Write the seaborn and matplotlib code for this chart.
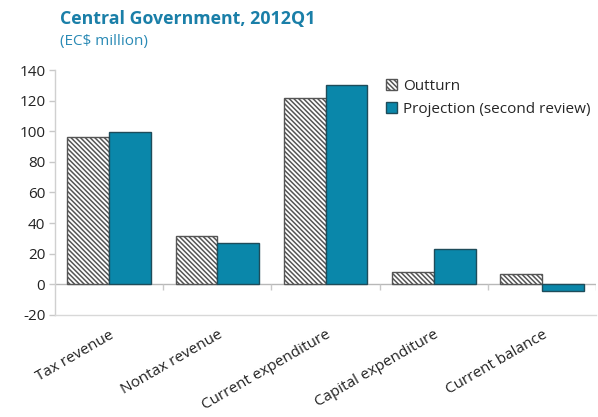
import matplotlib
matplotlib.use("Agg")
import matplotlib.pyplot as plt
from matplotlib.patches import Patch
import seaborn as sns
import pandas as pd
import numpy as np

categories = ["Tax revenue", "Nontax revenue", "Current expenditure",
              "Capital expenditure", "Current balance"]
outturn = [96.2, 31.8, 121.5, 8.3, 6.8]
projection = [99.2, 27.0, 130.5, 23.3, -4.6]
series = ["Outturn", "Projection (second review)"]
yticks = [-20, 0, 20, 40, 60, 80, 100, 120, 140]

df = pd.DataFrame({
    "category": categories * 2,
    "series": [series[0]] * len(categories) + [series[1]] * len(categories),
    "value": outturn + projection,
})

sns.set_theme(style="white")
plt.rcParams["font.family"] = ["Open Sans", "DejaVu Sans"]
plt.rcParams["hatch.linewidth"] = 1.1

teal = "#0a87aa"
hatch_col = "#555555"
HATCH = "\\" * 7

fig = plt.figure(figsize=(5.98, 4.17), dpi=100)
ax = fig.add_axes([0.092, 0.245, 0.905, 0.587])

sns.barplot(data=df, x="category", y="value", hue="series", hue_order=series,
            palette=["white", teal], width=0.77, gap=0, legend=False, ax=ax,
            saturation=1, errorbar=None)

n = len(categories)
for i, p in enumerate(ax.patches[:2 * n]):
    if i < n:
        p.set_facecolor("white")
        p.set_edgecolor(hatch_col)
        p.set_hatch(HATCH)
        p.set_linewidth(1.0)
    else:
        p.set_facecolor(teal)
        p.set_edgecolor("#1e4c5a")
        p.set_linewidth(1.0)

ax.set_ylim(-20, 140)
ax.set_xlim(-0.5, n - 0.5)
ax.set_yticks(yticks)
ax.set_yticklabels([str(v) for v in yticks], fontsize=11, color="#222222")
ax.set_xlabel("")
ax.set_ylabel("")
ax.set_xticks(range(n))
ax.set_xticklabels(categories, rotation=30, ha="right", rotation_mode="anchor",
                   fontsize=11, color="#222222")
ax.tick_params(axis="x", length=0, pad=9)
ax.tick_params(axis="y", length=4, color="#c8c8c8", width=1, pad=3, left=True)

for s in ["top", "right"]:
    ax.spines[s].set_visible(False)
ax.spines["left"].set_color("#d0d0d0")
ax.spines["bottom"].set_color("#d8d8d8")
ax.spines["left"].set_linewidth(1.0)
ax.spines["bottom"].set_linewidth(1.0)

ax.axhline(0, color="#b8b8b8", lw=1.0, zorder=0.5)
bounds = np.arange(0.5, n, 1.0)
ax.vlines(bounds, -3.5, 0, color="#c8c8c8", lw=1.0)

handles = [Patch(facecolor="white", edgecolor=hatch_col, hatch=HATCH, label=series[0]),
           Patch(facecolor=teal, edgecolor="#1e4c5a", label=series[1])]
ax.legend(handles=handles, loc="upper left", bbox_to_anchor=(0.6, 0.99), frameon=False,
          fontsize=11, handlelength=0.75, handleheight=0.75, handletextpad=0.4,
          labelspacing=0.55, borderaxespad=0)

fig.text(0.100, 0.955, "Central Government, 2012Q1", fontsize=12.8, fontweight="bold",
         color="#1a7fa8", va="center", ha="left")
fig.text(0.100, 0.900, "(EC$ million)", fontsize=11, color="#2a8ab5", va="center", ha="left")

fig.savefig("out.png", dpi=100)
